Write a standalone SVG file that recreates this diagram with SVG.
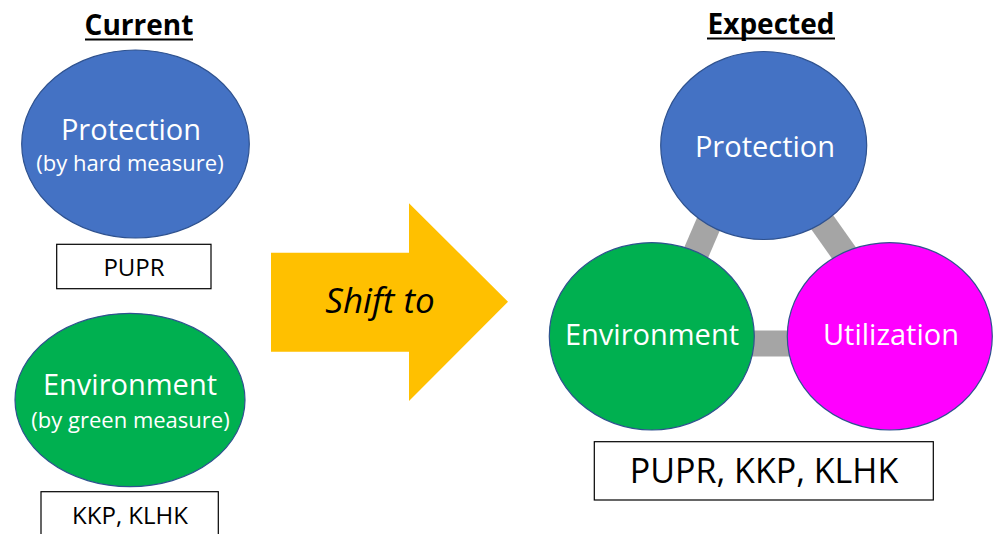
<svg xmlns="http://www.w3.org/2000/svg" width="999" height="534" viewBox="0 0 999 534">
<style>
.title{font-family:"Open Sans","Liberation Sans",sans-serif;font-weight:bold;font-size:28px;fill:#000;text-anchor:middle}
.ul{stroke:#000;stroke-width:2}
.node{stroke:#2f528f;stroke-width:1.2}
.lbl{font-family:"Open Sans","Liberation Sans",sans-serif;fill:#fff;text-anchor:middle}
.big{font-size:29px}
.small{font-size:22px}
.box{fill:#fff;stroke:#000;stroke-width:1.2}
.btxt{font-family:"Open Sans","Liberation Sans",sans-serif;fill:#000;text-anchor:middle}
.conn{stroke:#a5a5a5;stroke-width:26;fill:none}
</style>
<rect width="999" height="534" fill="#fff"/>
<g id="title-current">
<text class="title" x="139" y="35">Current</text>
<line class="ul" x1="85" y1="39.5" x2="193" y2="39.5"/>
</g>
<g id="title-expected">
<text class="title" x="771" y="34">Expected</text>
<line class="ul" x1="707" y1="38.5" x2="835" y2="38.5"/>
</g>
<g id="cur-protection">
<ellipse class="node" cx="135.5" cy="144" rx="113.8" ry="94" fill="#4472c4"/>
<text class="lbl big" x="131" y="140">Protection</text>
<text class="lbl small" x="130" y="171">(by hard measure)</text>
</g>
<g id="cur-pupr">
<rect class="box" x="56.7" y="244.3" width="154.3" height="44.4"/>
<text class="btxt" x="134" y="276" font-size="24">PUPR</text>
</g>
<g id="cur-environment">
<ellipse class="node" cx="130" cy="400" rx="115" ry="86.7" fill="#00b050"/>
<text class="lbl big" x="130" y="395">Environment</text>
<text class="lbl small" x="130.5" y="428">(by green measure)</text>
</g>
<g id="cur-kkp">
<rect class="box" x="41" y="491.7" width="177.3" height="60"/>
<text class="btxt" x="130" y="524" font-size="24">KKP, KLHK</text>
</g>
<g id="shift-arrow">
<polygon points="271,252.7 409,252.7 409,203.3 508,301.7 409,401 409,351.7 271,351.7" fill="#ffc000"/>
<text x="380" y="313.3" font-family="'Open Sans','Liberation Sans',sans-serif" font-style="italic" font-size="35" fill="#000" text-anchor="middle">Shift to</text>
</g>
<g id="connectors">
<line class="conn" x1="752" y1="123" x2="657" y2="343.5"/>
<line class="conn" x1="752" y1="123" x2="908" y2="343.5"/>
<line class="conn" x1="657" y1="343.5" x2="908" y2="343.5"/>
</g>
<g id="exp-protection">
<ellipse class="node" cx="763.7" cy="145.5" rx="103" ry="94" fill="#4472c4"/>
<text class="lbl big" x="765" y="156.7">Protection</text>
</g>
<g id="exp-environment">
<ellipse class="node" cx="651.8" cy="336.3" rx="102.5" ry="93.7" fill="#00b050"/>
<text class="lbl big" x="652" y="345">Environment</text>
</g>
<g id="exp-utilization">
<ellipse class="node" cx="889.8" cy="336.3" rx="102.5" ry="93.7" fill="#ff00ff"/>
<text class="lbl big" x="891" y="345">Utilization</text>
</g>
<g id="exp-agencies">
<rect class="box" x="594.3" y="441.7" width="339" height="58.3"/>
<text class="btxt" x="764" y="483.3" font-size="34">PUPR, KKP, KLHK</text>
</g>
</svg>
